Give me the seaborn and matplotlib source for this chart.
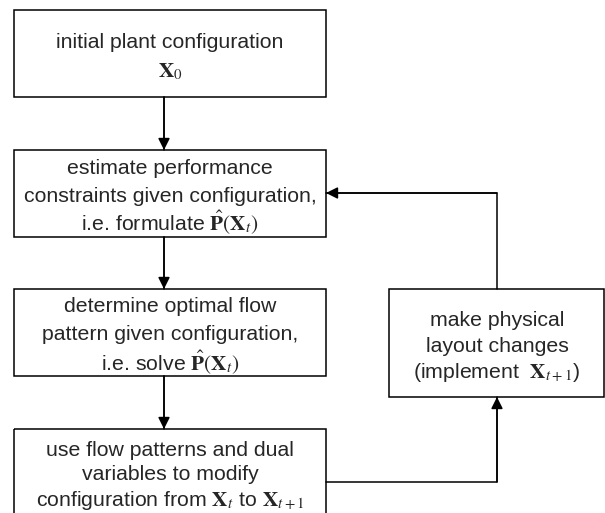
import matplotlib
matplotlib.use("Agg")
import matplotlib.pyplot as plt
import seaborn as sns
from matplotlib.patches import Rectangle

sns.set_style("white")
plt.rcParams["font.family"] = ["Liberation Sans", "DejaVu Sans"]
plt.rcParams["mathtext.fontset"] = "stix"

# box texts, one list of lines per step
step_init = ["initial plant configuration", r"$\mathbf{X}_0$"]
step_estimate = ["estimate performance", "constraints given configuration,",
                 r"i.e. formulate $\hat{\mathbf{P}}(\mathbf{X}_t)$"]
step_solve = ["determine optimal flow", "pattern given configuration,",
              r"i.e. solve $\hat{\mathbf{P}}(\mathbf{X}_t)$"]
step_modify = ["use flow patterns and dual", "variables to modify",
               r"configuration from $\mathbf{X}_t$ to $\mathbf{X}_{t+1}$"]
step_layout = ["make physical", "layout changes",
               r"(implement  $\mathbf{X}_{t+1}$)"]

fig = plt.figure(figsize=(6.05, 5.13), dpi=100)
ax = fig.add_axes([0, 0, 1, 1])
ax.set_xlim(0, 605)
ax.set_ylim(513, 0)
ax.axis("off")

FS = 15.3
LW = 1.1


def box(x0, y0, x1, y1, lines, cx, ys):
    ax.add_patch(Rectangle((x0, y0), x1 - x0, y1 - y0, fill=False,
                           edgecolor="black", lw=LW))
    for txt, y in zip(lines, ys):
        ax.text(cx, y, txt, ha="center", va="center", fontsize=FS)


def arrow(pts):
    xs = [p[0] for p in pts]
    ys = [p[1] for p in pts]
    ax.plot(xs[:-1] + [xs[-1]], ys, color="black", lw=LW)
    ax.annotate("", xy=pts[-1], xytext=pts[-2],
                arrowprops=dict(arrowstyle="-|>,head_length=0.7,head_width=0.35",
                                color="black", lw=LW, shrinkA=0, shrinkB=0))


box(14, 10, 326, 97, step_init, 170, [43, 72])
box(14, 150, 326, 237, step_estimate, 170, [169, 196, 222])
box(14, 289, 326, 376, step_solve, 170, [307, 334, 362])
box(14, 429, 326, 530, step_modify, 170, [450, 475, 501])
box(389, 289, 604, 397, step_layout, 497, [320, 347, 373])

arrow([(164, 97), (164, 150)])
arrow([(164, 237), (164, 289)])
arrow([(164, 376), (164, 429)])
arrow([(326, 482), (497, 482), (497, 397)])
arrow([(497, 289), (497, 193), (326, 193)])

fig.savefig("out.png", dpi=100, facecolor="white")
